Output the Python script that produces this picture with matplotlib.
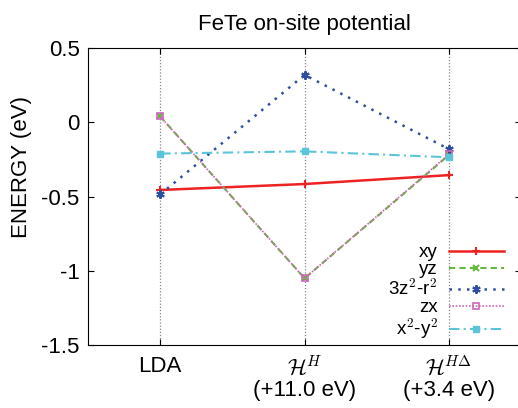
import matplotlib
matplotlib.use("Agg")
import matplotlib.pyplot as plt

plt.rcParams['font.family'] = ['Liberation Sans', 'DejaVu Sans']
plt.rcParams['mathtext.fontset'] = 'cm'

# 三个计算方案
schemes = ['LDA', '$\\mathcal{H}^{H}$\n(+11.0 eV)', '$\\mathcal{H}^{H\\Delta}$\n(+3.4 eV)']
x_pos = [0, 1, 2]

# 各轨道的能量 (eV)
xy = [-0.455, -0.415, -0.355]
yz = [0.04, -1.05, -0.22]
z2 = [-0.485, 0.32, -0.18]
zx = [0.04, -1.05, -0.215]
x2y2 = [-0.21, -0.195, -0.235]

fig = plt.figure(figsize=(5.18, 4.08), dpi=100)
ax = fig.add_axes([0.170, 0.154, 0.836, 0.728])

for xv in x_pos:
    ax.axvline(xv, color='#888888', ls=(0, (1, 1.5)), lw=0.9, zorder=0)

ax.plot(x_pos, xy, color='#ee2222', ls='-', lw=1.8, marker='+', ms=6, mew=1.5, label='xy')
ax.plot(x_pos, yz, color='#66b83a', ls=(0, (3, 2)), lw=1.5, marker='x', ms=5, mew=1.5, label='yz')
ax.plot(x_pos, z2, color='#2e4fa0', ls=(0, (1, 2.5)), lw=1.8, marker=(6, 2, 0), ms=6, mew=1.5,
        label='3z$^2$-r$^2$')
ax.plot(x_pos, zx, color='#cc66bb', ls=(0, (1, 1)), lw=1.2, marker='s', ms=5, mfc='none', mew=1.2,
        label='zx')
ax.plot(x_pos, x2y2, color='#5cc4d8', ls=(0, (5, 2, 1, 2)), lw=1.5, marker='s', ms=5, label='x$^2$-y$^2$')

ax.set_xlim(-0.5, 2.5)
ax.set_ylim(-1.5, 0.5)
ax.set_yticks([0.5, 0, -0.5, -1, -1.5])
ax.set_yticklabels(['0.5', '0', '-0.5', '-1', '-1.5'])
ax.set_xticks(x_pos)
ax.set_xticklabels(schemes, linespacing=1.0)
ax.tick_params(axis='both', direction='in', length=4, labelsize=16, top=True, right=True)
ax.tick_params(axis='x', pad=8)
ax.tick_params(axis='y', pad=6)
ax.set_ylabel('ENERGY (eV)', fontsize=16)
ax.yaxis.set_label_coords(-0.13, 0.60)
ax.set_title('FeTe on-site potential', fontsize=16, pad=13)

ax.legend(loc='lower right', bbox_to_anchor=(0.968, 0.0), frameon=False, markerfirst=False,
          alignment='right', fontsize=13.5, handlelength=2.9, labelspacing=0.0, handletextpad=0.6,
          borderaxespad=0.0, borderpad=0.2)

fig.savefig('out.png', dpi=100)
